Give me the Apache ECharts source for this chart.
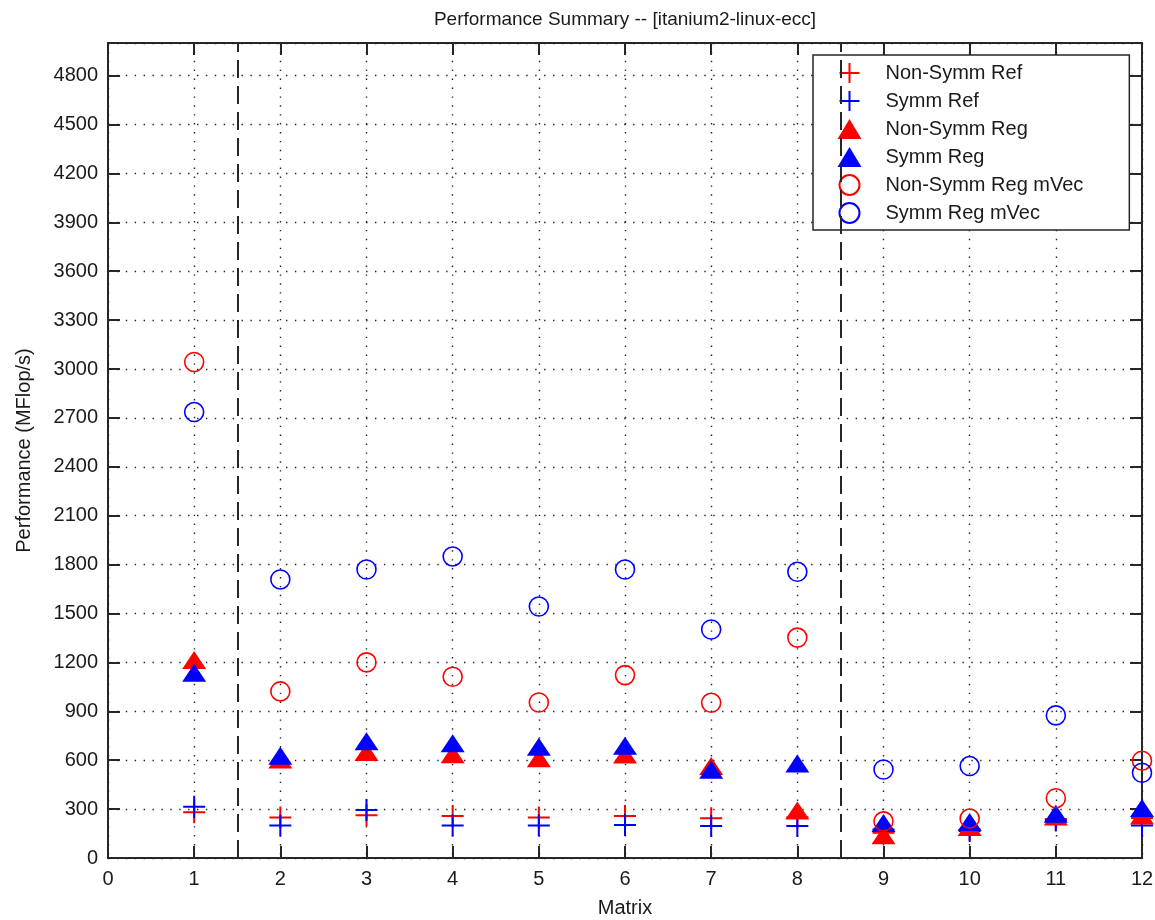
<!DOCTYPE html>
<html>
<head>
<meta charset="utf-8">
<script src="https://cdn.jsdelivr.net/npm/echarts@6/dist/echarts.min.js"></script>
<style>
  html, body { margin: 0; padding: 0; background: #ffffff; }
  #chart { width: 1155px; height: 920px; }
</style>
</head>
<body>
<div id="chart"></div>
<script>
// ---- data ----
var matrices       = [1, 2, 3, 4, 5, 6, 7, 8, 9, 10, 11, 12];
var nonSymmRef     = [280, 248, 262, 258, 248, 258, 244, 250, 155, 175, 240, 245];
var symmRef        = [315, 200, 295, 200, 200, 202, 196, 197, 175, 166, 230, 200];
var nonSymmReg     = [1214, 605, 651, 637, 612, 635, 565, 292, 139, 190, 255, 260];
var symmReg        = [1136, 627, 717, 704, 682, 688, 541, 580, 215, 221, 272, 307];
var nonSymmRegMVec = [3043, 1022, 1200, 1112, 954, 1122, 952, 1352, 225, 242, 367, 597];
var symmRegMVec    = [2736, 1709, 1770, 1850, 1543, 1770, 1402, 1756, 543, 564, 875, 523];
var separators     = [1.5, 8.5];
var seriesNames    = ['Non-Symm Ref', 'Symm Ref', 'Non-Symm Reg', 'Symm Reg', 'Non-Symm Reg mVec', 'Symm Reg mVec'];
var titleText      = 'Performance Summary -- [itanium2-linux-ecc]';
var xAxisName      = 'Matrix';
var yAxisName      = 'Performance (MFlop/s)';

function pairs(vals) {
  return matrices.map(function (m, i) { return [m, vals[i]]; });
}

var FONT = "'Liberation Sans', Arial, Helvetica, sans-serif";
var TXT = '#1a1a1a';
var AX = '#262626';
var RED = '#ff0000';
var BLUE = '#0000ff';
var PLUS = 'path://M0,11H22M11,0V22';

var gridDots = { show: true, lineStyle: { color: '#222', width: 1.4, type: [1.4, 7.5] } };

function plusSeries(name, vals, color) {
  return {
    name: name, type: 'scatter', data: pairs(vals),
    symbol: PLUS, symbolSize: 22,
    itemStyle: { color: 'none', borderColor: color, borderWidth: 2, opacity: 1 },
    emphasis: { disabled: true }
  };
}
function triSeries(name, vals, color) {
  return {
    name: name, type: 'scatter', data: pairs(vals),
    symbol: 'triangle', symbolSize: [24, 18],
    itemStyle: { color: color, opacity: 1 },
    emphasis: { disabled: true }
  };
}
function circSeries(name, vals, color) {
  return {
    name: name, type: 'scatter', data: pairs(vals),
    symbol: 'circle', symbolSize: 19,
    itemStyle: { color: 'none', borderColor: color, borderWidth: 1.6, opacity: 1 },
    emphasis: { disabled: true }
  };
}

var series = [
  plusSeries(seriesNames[0], nonSymmRef, RED),
  plusSeries(seriesNames[1], symmRef, BLUE),
  triSeries(seriesNames[2], nonSymmReg, RED),
  triSeries(seriesNames[3], symmReg, BLUE),
  circSeries(seriesNames[4], nonSymmRegMVec, RED),
  circSeries(seriesNames[5], symmRegMVec, BLUE)
];
series[0].markLine = {
  silent: true, symbol: 'none', animation: false,
  label: { show: false },
  lineStyle: { color: AX, width: 2, type: [18, 8], opacity: 1 },
  data: separators.map(function (s) { return { xAxis: s }; })
};

var chart = echarts.init(document.getElementById('chart'), null, { renderer: 'canvas' });
chart.setOption({
  animation: false,
  backgroundColor: '#ffffff',
  textStyle: { fontFamily: FONT, color: TXT },
  title: {
    text: titleText, left: 625, top: 10, textAlign: 'center', padding: 0,
    textStyle: { fontFamily: FONT, fontSize: 19, fontWeight: 'normal', color: TXT }
  },
  grid: { left: 108, right: 13, top: 43, bottom: 62, containLabel: false, outerBoundsMode: 'none' },
  legend: {
    orient: 'vertical', left: 813, top: 55,
    padding: [4, 46, 3, 24],
    itemWidth: 24, itemHeight: 20, itemGap: 0,
    backgroundColor: '#ffffff', borderColor: AX, borderWidth: 1.5, borderRadius: 0,
    selectedMode: false,
    data: seriesNames,
    formatter: function (n) { return '{t|' + n + '}'; },
    textStyle: {
      fontFamily: FONT, fontSize: 20, color: TXT,
      rich: { t: { fontFamily: FONT, fontSize: 20, color: TXT, padding: [0, 0, 0, 19], height: 28, lineHeight: 28 } }
    }
  },
  xAxis: [{
    type: 'value', min: 0, max: 12, interval: 1, position: 'bottom',
    name: xAxisName, nameLocation: 'middle', nameGap: 40,
    nameTextStyle: { fontFamily: FONT, fontSize: 20, color: TXT },
    axisLine: { show: true, onZero: false, lineStyle: { color: AX, width: 2 } },
    axisTick: { show: true, inside: true, length: 12, lineStyle: { color: AX, width: 2 } },
    axisLabel: { fontFamily: FONT, fontSize: 20, color: TXT, margin: 11 },
    splitLine: gridDots
  }, {
    type: 'value', min: 0, max: 12, interval: 1, position: 'top',
    axisLine: { show: true, onZero: false, lineStyle: { color: AX, width: 2 } },
    axisTick: { show: true, inside: true, length: 12, lineStyle: { color: AX, width: 2 } },
    axisLabel: { show: false }, splitLine: { show: false }
  }],
  yAxis: [{
    type: 'value', min: 0, max: 5000, interval: 300, position: 'left',
    name: yAxisName, nameLocation: 'middle', nameGap: 74, nameRotate: 90,
    nameTextStyle: { fontFamily: FONT, fontSize: 20, color: TXT },
    axisLine: { show: true, onZero: false, lineStyle: { color: AX, width: 2 } },
    axisTick: { show: true, inside: true, length: 12, lineStyle: { color: AX, width: 2 } },
    axisLabel: {
      fontFamily: FONT, fontSize: 20, color: TXT, margin: 10, showMaxLabel: false,
      formatter: function (v) { return v > 4800 ? '' : String(v); }
    },
    splitLine: gridDots
  }, {
    type: 'value', min: 0, max: 5000, interval: 300, position: 'right',
    axisLine: { show: true, onZero: false, lineStyle: { color: AX, width: 2 } },
    axisTick: { show: true, inside: true, length: 12, lineStyle: { color: AX, width: 2 } },
    axisLabel: { show: false }, splitLine: { show: false }
  }],
  series: series
});
</script>
</body>
</html>
